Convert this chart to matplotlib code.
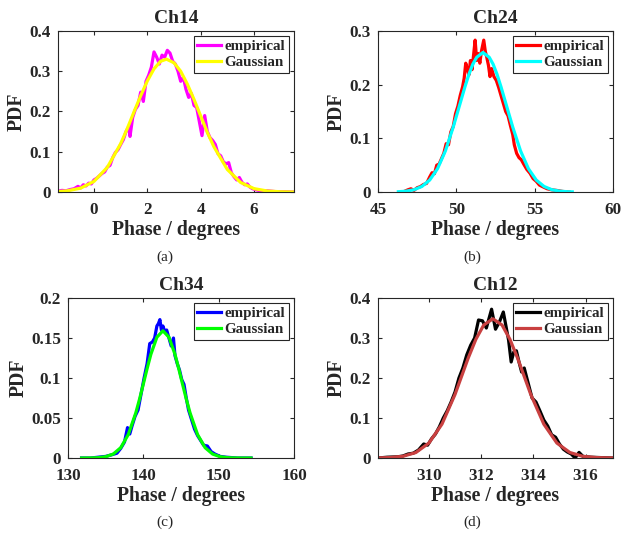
import numpy as np
import matplotlib
matplotlib.use("Agg")
import matplotlib.pyplot as plt

plt.rcParams['font.family'] = ['Liberation Serif', 'DejaVu Serif']
plt.rcParams['font.weight'] = 'bold'
plt.rcParams['text.color'] = '#262626'
plt.rcParams['axes.labelcolor'] = '#262626'
plt.rcParams['xtick.color'] = '#262626'
plt.rcParams['ytick.color'] = '#262626'

# ---- Ch14 ----
a_emp_x = [-1.35, -1.2, -1.05, -0.9, -0.75, -0.6, -0.5, -0.4, -0.3, -0.2, -0.1, 0.0,
           0.1, 0.2, 0.3, 0.4, 0.5, 0.6, 0.7, 0.8, 0.9, 1.0, 1.1, 1.2, 1.3, 1.35,
           1.45, 1.55, 1.65, 1.75, 1.85, 1.95, 2.05, 2.15, 2.25, 2.35, 2.45, 2.55,
           2.65, 2.75, 2.85, 2.95, 3.05, 3.15, 3.25, 3.35, 3.45, 3.55, 3.65, 3.75,
           3.85, 3.95, 4.05, 4.15, 4.25, 4.35, 4.45, 4.55, 4.65, 4.75, 4.85, 4.95,
           5.05, 5.15, 5.25, 5.35, 5.45, 5.55, 5.65, 5.75, 5.85, 5.95, 6.1, 6.3,
           6.5, 6.8, 7.1, 7.5]
a_emp_y = [0.002, 0.004, 0.003, 0.006, 0.008, 0.014, 0.010, 0.018, 0.015, 0.022, 0.020, 0.030,
           0.034, 0.040, 0.046, 0.050, 0.062, 0.066, 0.085, 0.098, 0.105, 0.118, 0.130, 0.150, 0.162, 0.138,
           0.185, 0.205, 0.215, 0.248, 0.225, 0.275, 0.290, 0.310, 0.348, 0.335, 0.318, 0.340,
           0.335, 0.352, 0.345, 0.325, 0.318, 0.300, 0.275, 0.285, 0.255, 0.235, 0.245, 0.215,
           0.210, 0.175, 0.140, 0.190, 0.150, 0.135, 0.128, 0.118, 0.095, 0.090, 0.075, 0.070,
           0.073, 0.048, 0.038, 0.030, 0.036, 0.024, 0.018, 0.020, 0.012, 0.008, 0.005, 0.002,
           0.003, 0.001, 0.001, 0.000]
a_fit_x = [-1.3, -1.0, -0.5, 0.0, 0.5, 1.0, 1.25, 1.5, 1.75, 2.0, 2.25, 2.5, 2.72, 3.0,
           3.25, 3.5, 3.75, 4.0, 4.25, 4.5, 5.0, 5.5, 6.0, 6.5, 7.0, 7.5]
a_fit_y = [0.0013, 0.0029, 0.0096, 0.0264, 0.0613, 0.120, 0.158, 0.199, 0.239, 0.276, 0.306,
           0.325, 0.330, 0.321, 0.300, 0.268, 0.230, 0.189, 0.148, 0.112, 0.0559, 0.0236,
           0.0084, 0.0025, 0.0006, 0.0001]

# ---- Ch24 ----
b_emp_x = [46.6, 46.9, 47.1, 47.3, 47.5, 47.7, 47.9, 48.1, 48.3, 48.45, 48.6, 48.75, 48.9,
           49.05, 49.2, 49.35, 49.5, 49.65, 49.8, 49.95, 50.1, 50.25, 50.4, 50.5, 50.6,
           50.7, 50.8, 50.9, 51.0, 51.1, 51.2, 51.3, 51.4, 51.5, 51.6, 51.75, 51.85,
           51.95, 52.05, 52.15, 52.25, 52.4, 52.55, 52.7, 52.85, 53.0, 53.15, 53.3, 53.45,
           53.6, 53.7, 53.85, 54.0, 54.15, 54.3, 54.5, 54.7, 54.9, 55.1, 55.3, 55.5, 55.8,
           56.1, 56.4, 56.8, 57.2]
b_emp_y = [0.000, 0.004, 0.006, 0.003, 0.008, 0.010, 0.014, 0.016, 0.028, 0.036, 0.034, 0.050, 0.052,
           0.062, 0.072, 0.090, 0.088, 0.112, 0.122, 0.146, 0.160, 0.180, 0.196, 0.212, 0.240,
           0.230, 0.218, 0.245, 0.228, 0.255, 0.283, 0.245, 0.258, 0.240, 0.262, 0.283, 0.262,
           0.250, 0.236, 0.215, 0.230, 0.215, 0.208, 0.195, 0.180, 0.165, 0.150, 0.142, 0.124,
           0.107, 0.088, 0.072, 0.064, 0.060, 0.052, 0.042, 0.035, 0.025, 0.020, 0.013, 0.010, 0.006,
           0.004, 0.003, 0.001, 0.000]
b_fit_x = [46.3, 46.8, 47.3, 47.8, 48.3, 48.8, 49.3, 49.8, 50.3, 50.55, 50.8, 51.05, 51.3,
           51.7, 52.1, 52.35, 52.6, 52.85, 53.1, 53.6, 54.1, 54.6, 55.1, 55.6, 56.1, 56.6,
           57.1, 57.4]
b_fit_y = [0.0005, 0.0016, 0.0042, 0.0103, 0.0223, 0.0435, 0.0765, 0.121, 0.171, 0.196, 0.219,
           0.238, 0.251, 0.260, 0.251, 0.238, 0.219, 0.196, 0.171, 0.121, 0.0765, 0.0435,
           0.0223, 0.0103, 0.0042, 0.0016, 0.0005, 0.0003]

# ---- Ch34 ----
c_emp_x = [131.8, 133.0, 134.0, 135.0, 135.8, 136.5, 137.0, 137.5, 137.9, 138.2, 138.5, 138.9,
           139.3, 139.7, 140.1, 140.5, 140.85, 141.2, 141.5, 141.8, 142.0, 142.2, 142.4, 142.6,
           142.85, 143.1, 143.4, 143.7, 144.0, 144.2, 144.5, 144.8, 145.1, 145.4, 145.7, 146.0,
           146.4, 146.8, 147.2, 147.6, 148.0, 148.5, 149.0, 149.5, 150.2, 151.0, 152.5, 154.3]
c_emp_y = [0.000, 0.000, 0.001, 0.002, 0.004, 0.006, 0.012, 0.020, 0.038, 0.030, 0.040, 0.052,
           0.060, 0.080, 0.100, 0.118, 0.143, 0.145, 0.150, 0.165, 0.168, 0.173, 0.160, 0.165,
           0.158, 0.160, 0.150, 0.140, 0.150, 0.128, 0.118, 0.110, 0.098, 0.092, 0.075, 0.060,
           0.048, 0.036, 0.028, 0.022, 0.016, 0.015, 0.008, 0.005, 0.002, 0.001, 0.000, 0.000]
c_fit_x = [131.8, 133.0, 134.0, 135.0, 136.0, 137.0, 138.0, 139.0, 139.5, 140.0, 140.5, 141.0,
           141.8, 142.6, 143.4, 144.2, 144.7, 145.2, 145.7, 146.2, 147.2, 148.2, 149.2, 150.2,
           151.2, 152.2, 153.2, 154.3]
c_fit_y = [0.0000, 0.0001, 0.0004, 0.0016, 0.0049, 0.0129, 0.0293, 0.0564, 0.0737, 0.0925, 0.1117,
           0.1296, 0.151, 0.159, 0.151, 0.1296, 0.1117, 0.0925, 0.0737, 0.0564, 0.0293, 0.0129,
           0.0049, 0.0016, 0.0004, 0.0001, 0.0000, 0.0000]

# ---- Ch12 ----
d_emp_x = [308.05, 308.4, 308.8, 309.0, 309.2, 309.4, 309.6, 309.8, 309.95, 310.1, 310.25, 310.4,
           310.55, 310.7, 310.85, 311.0, 311.15, 311.3, 311.45, 311.6, 311.75, 311.9, 312.05,
           312.2, 312.4, 312.55, 312.7, 312.85, 312.95, 313.05, 313.15, 313.25, 313.35, 313.45,
           313.55, 313.65, 313.75, 313.85, 313.95, 314.1, 314.25, 314.4, 314.55, 314.7, 314.85,
           315.0, 315.15, 315.3, 315.45, 315.6, 315.75, 315.9, 316.2, 316.6, 317.05]
d_emp_y = [0.000, 0.002, 0.003, 0.005, 0.010, 0.012, 0.020, 0.035, 0.032, 0.048, 0.060, 0.078,
           0.100, 0.118, 0.140, 0.165, 0.200, 0.225, 0.258, 0.282, 0.300, 0.345, 0.343,
           0.325, 0.372, 0.322, 0.340, 0.365, 0.330, 0.295, 0.240, 0.265, 0.268, 0.240,
           0.215, 0.225, 0.200, 0.175, 0.150, 0.140, 0.118, 0.095, 0.080, 0.058, 0.052,
           0.035, 0.022, 0.015, 0.010, 0.000, 0.014, 0.004, 0.002, 0.001, 0.000]
d_fit_x = [308.05, 308.5, 309.0, 309.5, 310.0, 310.5, 311.0, 311.5, 311.8, 312.1, 312.45, 312.8,
           313.1, 313.4, 313.9, 314.4, 314.9, 315.4, 315.9, 316.4, 316.9, 317.05]
d_fit_y = [0.0003, 0.0011, 0.0042, 0.0137, 0.0374, 0.0847, 0.159, 0.249, 0.297, 0.3325, 0.348,
           0.3325, 0.297, 0.249, 0.159, 0.0847, 0.0374, 0.0137, 0.0042, 0.0011, 0.0003, 0.0002]

titles = ['Ch14', 'Ch24', 'Ch34', 'Ch12']
letters = ['(a)', '(b)', '(c)', '(d)']
emp_cols = ['#ff00ff', '#ff0000', '#0000ff', '#000000']
fit_cols = ['#ffff00', '#00ffff', '#00ff00', '#c94040']
xlims = [(-1.35, 7.5), (45, 60), (130, 160), (308.05, 317.05)]
ylims = [0.4, 0.3, 0.2, 0.4]
xticks = [[0, 2, 4, 6], [45, 50, 55, 60], [130, 140, 150, 160], [310, 312, 314, 316]]
yticks = [[0, 0.1, 0.2, 0.3, 0.4], [0, 0.1, 0.2, 0.3],
          [0, 0.05, 0.1, 0.15, 0.2], [0, 0.1, 0.2, 0.3, 0.4]]
emp = [(a_emp_x, a_emp_y), (b_emp_x, b_emp_y), (c_emp_x, c_emp_y), (d_emp_x, d_emp_y)]
fit = [(a_fit_x, a_fit_y), (b_fit_x, b_fit_y), (c_fit_x, c_fit_y), (d_fit_x, d_fit_y)]

W, H = 621, 533
# axes boxes in pixels: left, top, right, bottom
boxes = [(58, 31, 294, 192), (378, 31, 613, 192), (68, 298, 294, 458), (378, 298, 613, 458)]
letter_pos = [(165, 257), (472, 257), (165, 522), (472, 522)]

fig = plt.figure(figsize=(W / 100, H / 100), dpi=100)

for i in range(4):
    l, t, r, b = boxes[i]
    ax = fig.add_axes([l / W, 1 - b / H, (r - l) / W, (b - t) / H])
    ax.plot(emp[i][0], emp[i][1], color=emp_cols[i], lw=2.3, label='empirical')
    ax.plot(fit[i][0], fit[i][1], color=fit_cols[i], lw=2.3, label='Gaussian')
    ax.set_xlim(*xlims[i])
    ax.set_ylim(0, ylims[i])
    ax.set_xticks(xticks[i])
    ax.set_yticks(yticks[i])
    ax.set_yticklabels([('%g' % v) for v in yticks[i]])
    ax.tick_params(direction='in', top=True, right=True, length=3, width=0.8,
                   labelsize=12.3)
    ax.tick_params(axis='x', pad=7)
    ax.tick_params(axis='y', pad=5)
    for sp in ax.spines.values():
        sp.set_color('#262626')
        sp.set_linewidth(0.8)
    ax.set_title(titles[i], fontsize=14, fontweight='bold', pad=6)
    ax.set_xlabel('Phase / degrees', fontsize=14.2, fontweight='bold', labelpad=2)
    ax.set_ylabel('PDF', fontsize=14.2, fontweight='bold', labelpad=2)
    leg = ax.legend(loc='upper right', fontsize=10.8, handlelength=1.6, handletextpad=0.2,
                    borderpad=0.25, labelspacing=0.15, borderaxespad=0.35, fancybox=False,
                    framealpha=1, edgecolor='#262626')
    leg.get_frame().set_linewidth(0.8)
    lx, ly = letter_pos[i]
    fig.text(lx / W, 1 - ly / H, letters[i], ha='center', va='center',
             fontsize=11, fontweight='normal')

fig.savefig('out.png', dpi=100)
